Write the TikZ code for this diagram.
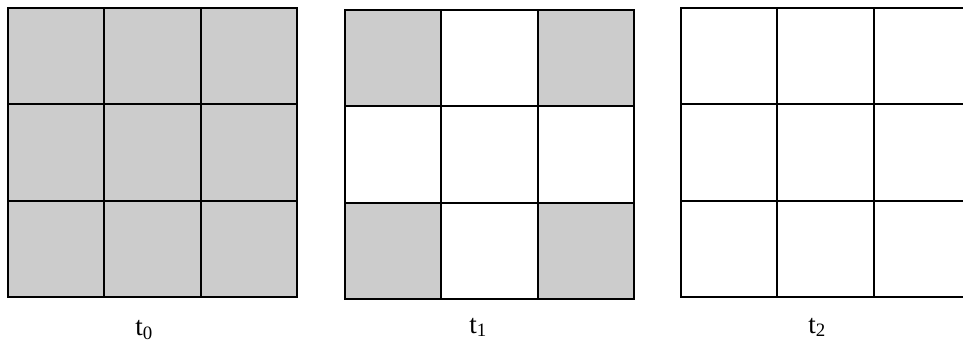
\documentclass[tikz,border=0pt]{standalone}
\usepackage{fontspec}
\setmainfont{Liberation Serif}
\definecolor{cellgray}{HTML}{CCCCCC}
\tikzset{
  gridline/.style={line width=2pt, black},
  tlabel/.style={anchor=base, inner sep=0pt, font=\fontsize{27}{32}\selectfont}
}

\begin{document}
\begin{tikzpicture}[x=1pt,y=-1pt]
\useasboundingbox (0,0) rectangle (963,343);
\clip (0,0) rectangle (963,343);
% t0: every cell shaded
\fill[cellgray] (8,8) rectangle (297,296);
% t1: corner cells shaded
\foreach \cx/\cy in {0/0, 2/0, 0/2, 2/2}
  \fill[cellgray] (345+\cx*96.3,10+\cy*96.3) rectangle ++(96.3,96.3);
% the three 3x3 grids
\foreach \ox/\oy in {8/8, 345/10, 681/8} {
  \foreach \i in {1,2} {
    \draw[gridline] (\ox+\i*96.3,\oy) -- ++(0,288.9);
    \draw[gridline] (\ox,\oy+\i*96.3) -- ++(288.9,0);
  }
  \draw[gridline] (\ox,\oy) rectangle ++(288.9,288.9);
}
\node[tlabel] (t0) at (144,335) {t\textsubscript{0}};
\node[tlabel] (t1) at (478,333) {t\textsubscript{1}};
\node[tlabel] (t2) at (817,333) {t\textsubscript{2}};
\end{tikzpicture}
\end{document}
